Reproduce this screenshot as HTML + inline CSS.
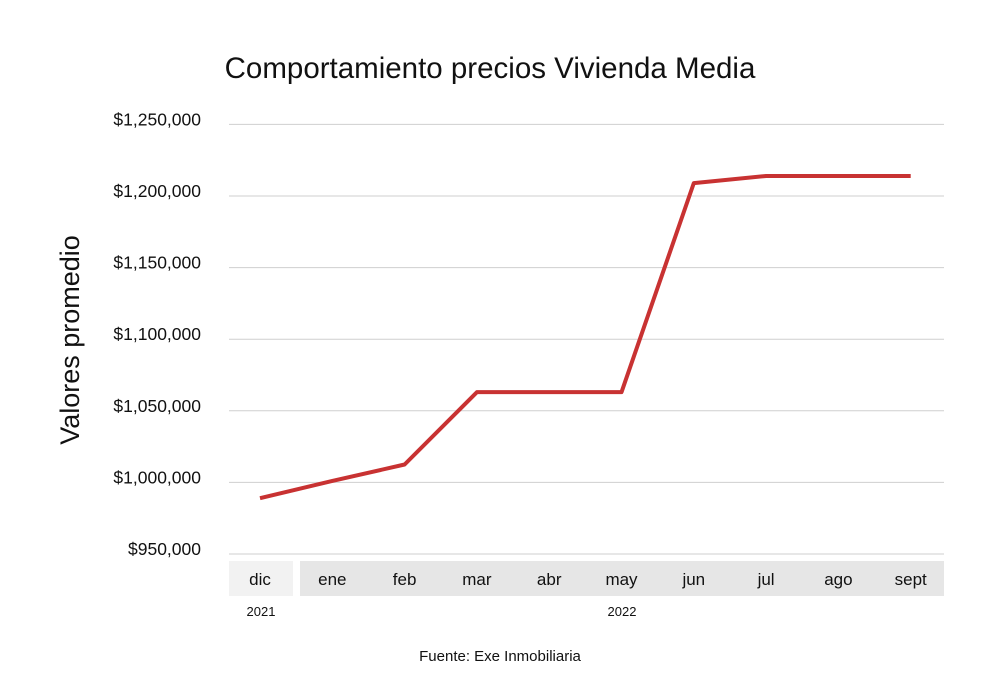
<!DOCTYPE html>
<html><head><meta charset="utf-8"><style>
body{margin:0;background:#fff}
svg text{font-family:"Liberation Sans",sans-serif;fill:#111}
</style></head><body>
<svg width="1000" height="693" xmlns="http://www.w3.org/2000/svg">
<text x="490" y="78" font-size="29.5" text-anchor="middle">Comportamiento precios Vivienda Media</text>
<text transform="translate(79,340) rotate(-90)" font-size="27" text-anchor="middle">Valores promedio</text>
<g id="grid"></g>
<rect x="229" y="561" width="64" height="35" fill="#f2f2f2"/>
<rect x="300" y="561" width="644" height="35" fill="#e6e6e6"/>
<g id="xlabels"></g>
<text x="261" y="616" font-size="13" text-anchor="middle">2021</text>
<text x="622" y="616" font-size="13" text-anchor="middle">2022</text>
<path id="line" fill="none" stroke="#c83232" stroke-width="4" stroke-linejoin="round"/>
<text x="500" y="661" font-size="15" text-anchor="middle">Fuente: Exe Inmobiliaria</text>
</svg>
<script>
const categories=["dic","ene","feb","mar","abr","may","jun","jul","ago","sept"];
const values=[989000,1001000,1012500,1063000,1063000,1063000,1209000,1214000,1214000,1214000];
const yTicks=[950000,1000000,1050000,1100000,1150000,1200000,1250000];
const yTickLabels=["$950,000","$1,000,000","$1,050,000","$1,100,000","$1,150,000","$1,200,000","$1,250,000"];
const NS="http://www.w3.org/2000/svg";
function y(v){return 554-(v-950000)/50000*71.6;}
function x(i){return 260+i*72.3;}
const grid=document.getElementById('grid');
yTicks.forEach((t,i)=>{
 const l=document.createElementNS(NS,'line');
 l.setAttribute('x1',229);l.setAttribute('x2',944);l.setAttribute('y1',y(t));l.setAttribute('y2',y(t));
 l.setAttribute('stroke','#cfcfcf');l.setAttribute('stroke-width','1');
 
 
 grid.appendChild(l);
 const tx=document.createElementNS(NS,'text');
 tx.setAttribute('x',201);tx.setAttribute('y',y(t)+1);tx.setAttribute('text-anchor','end');tx.setAttribute('font-size','17.5');
 tx.textContent=yTickLabels[i];
 
 
 grid.appendChild(tx);
});
const xl=document.getElementById('xlabels');
categories.forEach((c,i)=>{
 const tx=document.createElementNS(NS,'text');
 tx.setAttribute('x',x(i));tx.setAttribute('y',585);tx.setAttribute('text-anchor','middle');tx.setAttribute('font-size','17');
 tx.textContent=c;
 
 
 xl.appendChild(tx);
});
document.getElementById('line').setAttribute('d',values.map((v,i)=>(i?'L':'M')+x(i)+','+y(v)).join(' '));
</script>
</body></html>
